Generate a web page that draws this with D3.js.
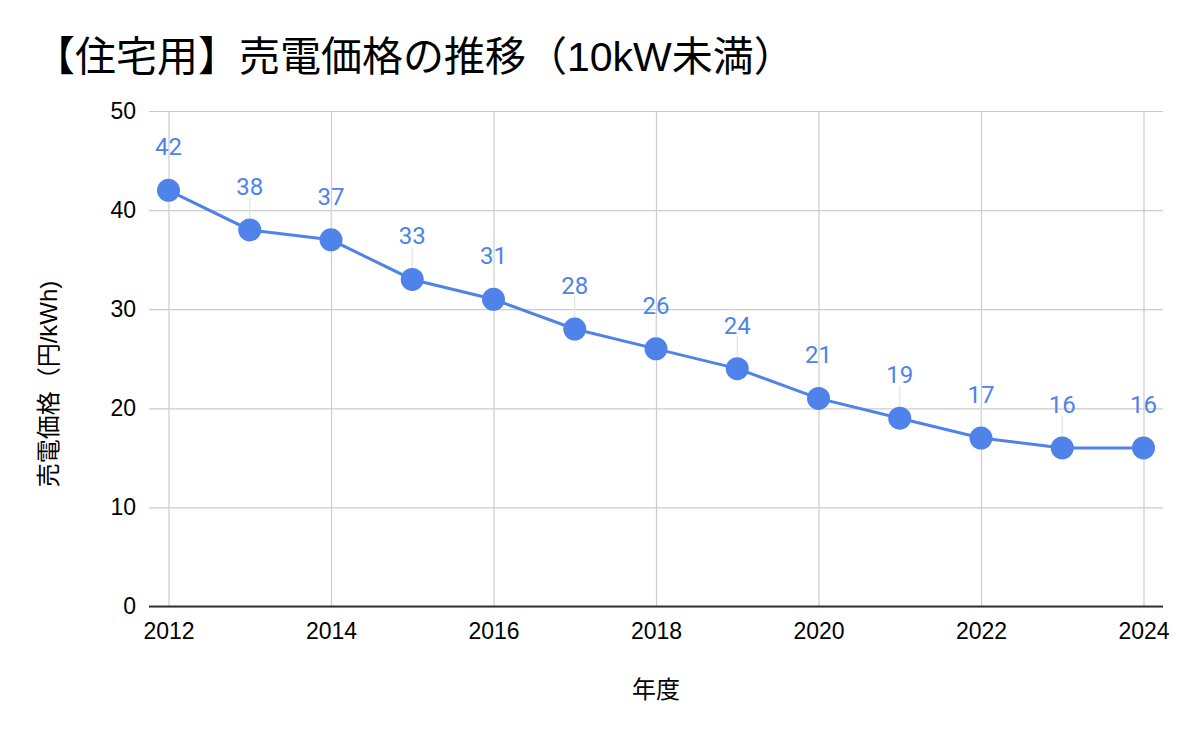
<!DOCTYPE html>
<html><head><meta charset="utf-8">
<script src="https://cdn.jsdelivr.net/npm/d3@7"></script>
<style>
html,body{margin:0;padding:0;background:#fff;}
</style></head>
<body>
<svg id="chart" width="1198" height="738"></svg>
<script>
const years = [2012,2013,2014,2015,2016,2017,2018,2019,2020,2021,2022,2023,2024];
const prices = [42,38,37,33,31,28,26,24,21,19,17,16,16];
const yTicks = [0,10,20,30,40,50];
const xTicks = [2012,2014,2016,2018,2020,2022,2024];
const titleText = "【住宅用】売電価格の推移（10kW未満）";
const yLabel = "売電価格（円/kWh)";
const xLabel = "年度";

const svg = d3.select("#chart");
const W = 1198, H = 738;
const plotL = 149, plotR = 1163, plotT = 111, plotB = 606.5;
const x = d3.scaleLinear().domain([2012,2024]).range([168.5,1143.5]);
const y = d3.scaleLinear().domain([0,50]).range([plotB, plotT]);
const blue = "#4f83ea";
const latin = "'Liberation Sans', Arial, sans-serif";
const cjk = "'Liberation Sans', 'Noto Sans CJK JP', sans-serif";

svg.append("rect").attr("width",W).attr("height",H).attr("fill","#fff");

// title
svg.append("text").attr("x",34).attr("y",71)
  .attr("font-family",cjk).attr("font-size",41).attr("fill","#000")
  .text(titleText);

// gridlines
const gy = d3.axisLeft(y).tickValues(yTicks).tickSize(-(plotR-plotL)).tickFormat("");
svg.append("g").attr("transform",`translate(${plotL},0)`).call(gy)
  .call(g=>g.select(".domain").remove())
  .call(g=>g.selectAll("line").attr("stroke","#cccccc").attr("stroke-width",1.2));
const gx = d3.axisBottom(x).tickValues(xTicks).tickSize(-(plotB-plotT)).tickFormat("");
svg.append("g").attr("transform",`translate(0,${plotB})`).call(gx)
  .call(g=>g.select(".domain").remove())
  .call(g=>g.selectAll("line").attr("stroke","#cccccc").attr("stroke-width",1.2));

// baseline
svg.append("line").attr("x1",plotL).attr("x2",plotR).attr("y1",y(0)).attr("y2",y(0))
  .attr("stroke","#333").attr("stroke-width",2);

// y tick labels
const ya = d3.axisLeft(y).tickValues(yTicks).tickSize(0).tickPadding(0).tickFormat(d3.format("d"));
svg.append("g").attr("transform",`translate(136,0)`).call(ya)
  .call(g=>g.select(".domain").remove())
  .call(g=>g.selectAll("text").attr("font-family",latin).attr("font-size",23).attr("fill","#000"));

// x tick labels
const xa = d3.axisBottom(x).tickValues(xTicks).tickSize(0).tickPadding(0).tickFormat(d3.format("d"));
svg.append("g").attr("transform",`translate(0,${plotB})`).call(xa)
  .call(g=>g.select(".domain").remove())
  .call(g=>g.selectAll("text").attr("font-family",latin).attr("font-size",23).attr("fill","#000").attr("dy",null).attr("y",32));

// axis titles
svg.append("text").attr("x",656).attr("y",698).attr("text-anchor","middle")
  .attr("font-family",cjk).attr("font-size",24).attr("fill","#000").text(xLabel);
svg.append("text").attr("transform","translate(57,384) rotate(-90)").attr("text-anchor","middle")
  .attr("font-family",cjk).attr("font-size",24).attr("fill","#000").text(yLabel);

const data = years.map((yr,i)=>({yr, v:prices[i]}));

// leader lines
svg.append("g").selectAll("line").data(data).join("line")
  .attr("x1",d=>x(d.yr)).attr("x2",d=>x(d.yr))
  .attr("y1",d=>y(d.v)-32).attr("y2",d=>y(d.v)-10)
  .attr("stroke","#e3e3e3").attr("stroke-width",1.2);

// line
svg.append("path").datum(data)
  .attr("d",d3.line().x(d=>x(d.yr)).y(d=>y(d.v)))
  .attr("fill","none").attr("stroke",blue).attr("stroke-width",3);

// points
svg.append("g").selectAll("circle").data(data).join("circle")
  .attr("cx",d=>x(d.yr)).attr("cy",d=>y(d.v)).attr("r",11.5).attr("fill",blue);

// labels
svg.append("g").selectAll("text").data(data).join("text")
  .attr("x",d=>x(d.yr)).attr("y",d=>y(d.v)-35).attr("text-anchor","middle")
  .attr("font-family","Roboto, 'Liberation Sans', sans-serif").attr("font-size",24).attr("fill",blue)
  .text(d=>d.v);
</script>
</body></html>
